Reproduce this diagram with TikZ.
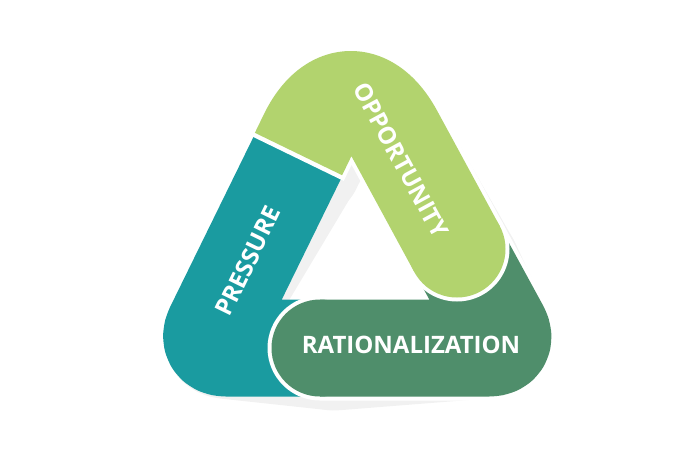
\documentclass[tikz,border=0pt]{standalone}
\usepackage{fontspec}
\setmainfont{Open Sans}
\definecolor{press}{HTML}{1A9BA0}
\definecolor{oppc}{HTML}{B2D36E}
\definecolor{ratc}{HTML}{4F8E6B}
\definecolor{shad}{HTML}{F1F1F1}
\begin{document}
\begin{tikzpicture}[x=1pt,y=-1pt,
  band/.style={line width=97pt,line join=round,rounded corners=22pt},
  rim/.style={line width=105pt,line join=round,rounded corners=22pt,white},
  lbl/.style={text=white,font=\bfseries\fontsize{24}{24}\selectfont}]
\useasboundingbox (0,0) rectangle (700,467);
\coordinate (A) at (204,348);
\coordinate (B) at (349,50);
\coordinate (C) at (511,348);
% soft shadow
\begin{scope}[shift={(14,14)}]
\draw[band,shad,line cap=round] (320,348) -- (C) -- (457,249);
\draw[band,shad,rounded corners=95pt,line cap=round] (298.5,154) -- (B) -- (457,249);
\draw[band,shad] (320,348) -- (A) -- (306,140);
\end{scope}
% pressure
\draw[band,press] (320,348) -- (A) -- (306,140);
% rationalization
\draw[rim,line cap=round] (320,348) -- (C) -- (457,249);
\draw[band,ratc] (320,348) -- (C) -- (457,249);
\fill[ratc] (320,348) circle (48.5);
% opportunity
\draw[rim,rounded corners=95pt] (296.5,158) -- (B) -- (457,249);
\fill[white] (457,249) circle (52.5);
\draw[band,oppc,rounded corners=95pt] (298.5,154) -- (B) -- (457,249);
\fill[oppc] (457,249) circle (48.5);
% labels
\node[lbl,rotate=64] (p) at (248,261) {PRESSURE};
\node[lbl,rotate=-61.5] (o) at (401,160) {OPPORTUNITY};
\node[lbl] (r) at (411,345) {RATIONALIZATION};
\end{tikzpicture}
\end{document}
